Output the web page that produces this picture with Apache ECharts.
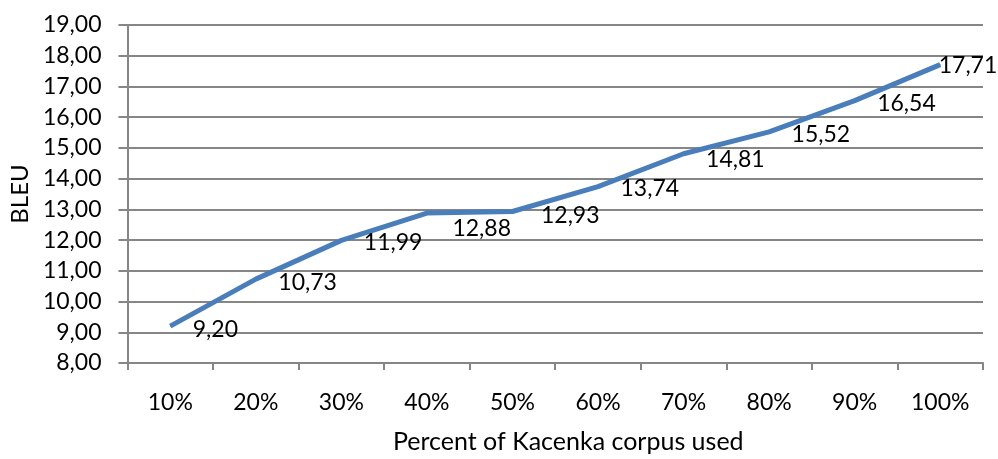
<!DOCTYPE html>
<html>
<head>
<meta charset="utf-8">
<script src="https://cdn.jsdelivr.net/npm/echarts@6/dist/echarts.min.js"></script>
<style>html,body{margin:0;padding:0;background:#fff;}#c{width:998px;height:459px;}</style>
</head>
<body>
<div id="c"></div>
<script>
const categories = ['10%','20%','30%','40%','50%','60%','70%','80%','90%','100%'];
const bleu = [9.20, 10.73, 11.99, 12.88, 12.93, 13.74, 14.81, 15.52, 16.54, 17.71];
const yTitle = 'BLEU';
const xTitle = 'Percent of Kacenka corpus used';

const FONT = 'Lato';
const fmt = v => v.toFixed(2).replace('.', ',');

const labelOffsets = [[0,3],[0,3],[0,2],[3,16],[6,4],[0,2],[0,6],[0,3],[0,3],[-24,1]];
const seriesData = bleu.map((v, i) => ({
  value: v,
  label: { offset: labelOffsets[i] }
}));

const chart = echarts.init(document.getElementById('c'), null, {renderer: 'canvas'});
chart.setOption({
  animation: false,
  backgroundColor: '#ffffff',
  grid: { left: 125, right: 15, top: 25, bottom: 88, containLabel: false },
  xAxis: {
    type: 'category',
    data: categories,
    boundaryGap: true,
    name: xTitle,
    nameLocation: 'middle',
    nameGap: 66,
    nameTextStyle: { fontFamily: FONT, fontSize: 25, color: '#000', padding: [0, 0, 0, 26] },
    axisLine: { lineStyle: { color: '#868686', width: 2 } },
    axisTick: { show: true, length: 7, inside: false, lineStyle: { color: '#868686', width: 2 } },
    axisLabel: { fontFamily: FONT, fontSize: 23, color: '#000', margin: 28 },
    splitLine: { show: false }
  },
  yAxis: {
    type: 'value',
    min: 8,
    max: 19,
    interval: 1,
    name: yTitle,
    nameLocation: 'middle',
    nameGap: 93,
    nameTextStyle: { fontFamily: FONT, fontSize: 24, color: '#000' },
    axisLine: { show: true, lineStyle: { color: '#868686', width: 2 } },
    axisTick: { show: true, length: 9, lineStyle: { color: '#868686', width: 2 } },
    axisLabel: { fontFamily: FONT, fontSize: 23, color: '#000', margin: 26, formatter: fmt },
    splitLine: { show: true, lineStyle: { color: '#868686', width: 2 } }
  },
  series: [{
    type: 'line',
    data: seriesData,
    symbol: 'circle',
    symbolSize: 1,
    showSymbol: true,
    lineStyle: { color: '#4a7ebb', width: 5 },
    itemStyle: { color: '#4a7ebb' },
    label: {
      show: true,
      position: 'right',
      distance: 22,
      fontFamily: FONT,
      fontSize: 23,
      color: '#000',
      formatter: p => fmt(p.value)
    }
  }]
});
</script>
</body>
</html>
